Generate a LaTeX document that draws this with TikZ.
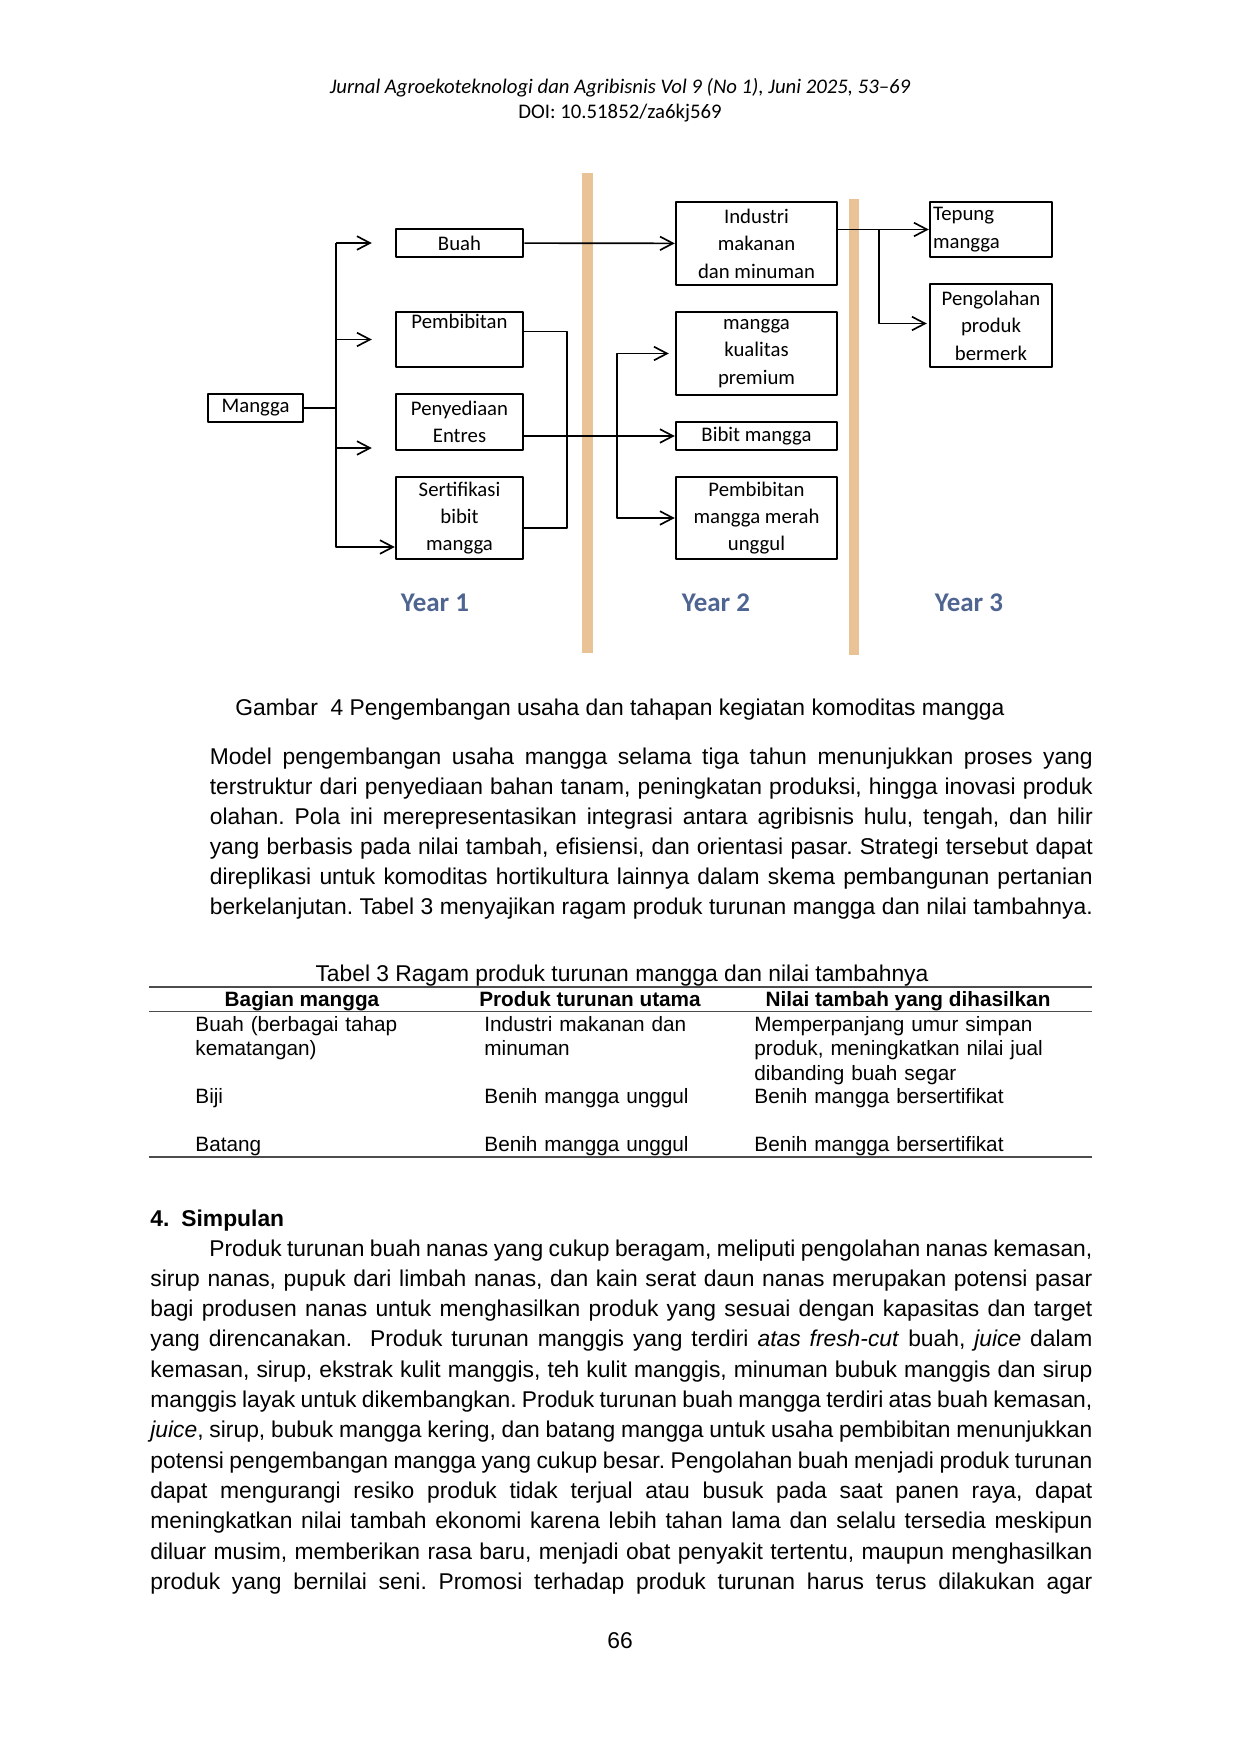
\documentclass[tikz,border=0pt]{standalone}
\usepackage{fontspec}
\setmainfont{Liberation Sans}
\newfontfamily\calibri{Carlito}
\usetikzlibrary{arrows.meta,calc}
\definecolor{barorange}{RGB}{233,194,150}
\definecolor{yearblue}{RGB}{79,101,145}
\def\pu{0.16935mm} % one pixel of the page
\newlength\wA \setlength\wA{149.54mm}
\newlength\wB \setlength\wB{159.53mm}
\newcommand\fl[2][\wA]{\hbox to #1{#2}}
\newcommand\spacing{\frenchspacing\spaceskip=0.278em plus 0.4em minus 0.14em\relax}
\begin{document}
\begin{tikzpicture}[line join=round, x=\pu, y=-\pu, >={Straight Barb[length=2.2mm,width=2.3mm]},
    box/.style={draw, line width=1.2pt, inner sep=0pt, align=center, font={\calibri\fontsize{10pt}{13.2pt}\selectfont}},
    conn/.style={line width=0.8pt},
    year/.style={text=yearblue, font={\calibri\bfseries\fontsize{13pt}{15pt}\selectfont}},
    body/.style={inner sep=0pt, font={\fontsize{11pt}{14.5pt}\selectfont}},
    cell/.style={inner sep=0pt, anchor=base west, text width=260*\pu, font={\fontsize{10pt}{11.9pt}\selectfont}},
    head/.style={inner sep=0pt, anchor=base, font={\bfseries\fontsize{10pt}{11.9pt}\selectfont}},
    rule/.style={black!70, line width=0.8pt}]
    \useasboundingbox (0,0) rectangle (1240,1754);
    \fill[white] (0,0) rectangle (1240,1754);
    % kop
    \node[inner sep=0pt, anchor=base, font={\calibri\itshape\fontsize{10pt}{12pt}\selectfont}] (jurnal) at (620,93) {Jurnal Agroekoteknologi dan Agribisnis Vol 9 (No 1), Juni 2025, 53\textendash 69};
    \node[inner sep=0pt, anchor=base, font={\calibri\fontsize{10pt}{12pt}\selectfont}] (doi) at (620,118) {DOI: 10.51852/za6kj569};
    % batas tahun
    \fill[barorange] (582,173) rectangle (593,653);
    \fill[barorange] (849,199) rectangle (859,655);
    % year 1
    \node[box, minimum width=95*\pu, minimum height=28*\pu] (mangga) at (255.5,408) {Mangga};
    \node[box, minimum width=127*\pu, minimum height=28*\pu] (buah) at (459.5,243) {Buah};
    \node[box, minimum width=127*\pu, minimum height=55*\pu] (pembibitan) at (459.5,339.5) {Pembibitan\\\strut};
    \node[box, minimum width=127*\pu, minimum height=56*\pu] (penyediaan) at (459.5,422) {Penyediaan\\Entres};
    \node[box, minimum width=127*\pu, minimum height=82*\pu] (sertifikasi) at (459.5,518) {Sertifikasi\\bibit\\mangga};
    % year 2
    \node[box, minimum width=161*\pu, minimum height=83*\pu] (industri) at (756.5,243.5) {Industri\\makanan\\dan minuman};
    \node[box, minimum width=161*\pu, minimum height=83*\pu] (kualitas) at (756.5,353.5) {mangga\\kualitas\\premium};
    \node[box, minimum width=161*\pu, minimum height=28*\pu] (bibit) at (756.5,436) {Bibit mangga};
    \node[box, minimum width=161*\pu, minimum height=82*\pu] (merah) at (756.5,518) {Pembibitan\\mangga merah\\unggul};
    % year 3
    \node[box, align=left, text width=116*\pu, inner xsep=3*\pu, minimum height=55*\pu] (tepung) at (991,229.5) {Tepung\\mangga};
    \node[box, minimum width=122*\pu, minimum height=83*\pu] (pengolahan) at (991,325.5) {Pengolahan\\produk\\bermerk};
    \node[year] (year1) at (435,603) {Year 1};
    \node[year] (year2) at (716,603) {Year 2};
    \node[year] (year3) at (969,603) {Year 3};
    % panah
    \coordinate (fork1) at (336,408);
    \coordinate (low) at (336,547);
    \draw[conn] (mangga) -- (fork1);
    \draw[conn,->] (fork1 |- buah) -- (low) -- (low -| sertifikasi.west);
    \draw[conn,->] (fork1 |- buah) -- ($(buah.west)+(-23,0)$);
    \draw[conn,->] (fork1 |- pembibitan) -- ($(pembibitan.west)+(-23,0)$);
    \draw[conn,->] (336,448) -- ($(penyediaan.west)+(-23,26)$);
    \draw[conn] ($(pembibitan.east)+(0,-8)$) -- ++(43,0) |- ($(sertifikasi.east)+(0,10)$);
    \draw[conn,->] (buah) -- (industri);
    \draw[conn,->] (bibit.west -| penyediaan.east) -- (bibit.west);
    \coordinate (fork2) at (617,437);
    \draw[conn,->] (fork2) |- ($(kualitas.west)+(-6,0)$);
    \draw[conn,->] (fork2) |- (merah.west);
    \coordinate (fork3) at (879,229.5);
    \draw[conn,->] (tepung.west -| industri.east) -- (tepung.west);
    \draw[conn,->] (fork3) |- ($(pengolahan.west)+(-2,-2)$);
    % teks halaman
    \node[body, anchor=base west] (gambar) at (235,715) {Gambar\ \ 4 Pengembangan usaha dan tahapan kegiatan komoditas mangga};
    \node[body, anchor=base west, text width=\wA] (model) at (209.4,764) {\spacing
        \fl{Model pengembangan usaha mangga selama tiga tahun menunjukkan proses yang}
        \fl{terstruktur dari penyediaan bahan tanam, peningkatan produksi, hingga inovasi produk}
        \fl{olahan. Pola ini merepresentasikan integrasi antara agribisnis hulu, tengah, dan hilir}
        \fl{yang berbasis pada nilai tambah, efisiensi, dan orientasi pasar. Strategi tersebut dapat}
        \fl{direplikasi untuk komoditas hortikultura lainnya dalam skema pembangunan pertanian}
        \fl{berkelanjutan. Tabel 3 menyajikan ragam produk turunan mangga dan nilai tambahnya.}};
    % tabel 3
    \node[body, anchor=base] (tabel) at (622,981) {Tabel 3 Ragam produk turunan mangga dan nilai tambahnya};
    \draw[rule] (149,987) -- (1092,987);
    \draw[rule, line width=0.6pt] (149,1011.5) -- (1092,1011.5);
    \draw[rule] (149,1157) -- (1092,1157);
    \node[head] (hbagian) at (302,1006) {Bagian mangga};
    \node[head] (hproduk) at (590,1006) {Produk turunan utama};
    \node[head] (hnilai) at (908,1006) {Nilai tambah yang dihasilkan};
    \node[cell] (buahb) at (195,1031) {Buah (berbagai tahap\\kematangan)};
    \node[cell] (buahp) at (484,1031) {Industri makanan dan\\minuman};
    \node[cell, text width=330*\pu] (buahn) at (754,1031) {Memperpanjang umur simpan\\produk, meningkatkan nilai jual\\dibanding buah segar};
    \node[cell] (bijib) at (195,1103) {Biji};
    \node[cell] (bijip) at (484,1103) {Benih mangga unggul};
    \node[cell] (bijin) at (754,1103) {Benih mangga bersertifikat};
    \node[cell] (batangb) at (195,1151) {Batang};
    \node[cell] (batangp) at (484,1151) {Benih mangga unggul};
    \node[cell] (batangn) at (754,1151) {Benih mangga bersertifikat};
    % simpulan
    \node[body, anchor=base west, font={\bfseries\fontsize{11pt}{14.5pt}\selectfont}] (simpulan) at (150,1226) {\makebox[5.25mm][l]{4.}Simpulan};
    \node[body, anchor=base west, text width=\wB, font={\fontsize{11pt}{14.6pt}\selectfont}] (isi) at (150,1256) {\spacing
        \fl[\wB]{\kern9.99mm Produk turunan buah nanas yang cukup beragam, meliputi pengolahan nanas kemasan,}
        \fl[\wB]{sirup nanas, pupuk dari limbah nanas, dan kain serat daun nanas merupakan potensi pasar}
        \fl[\wB]{bagi produsen nanas untuk menghasilkan produk yang sesuai dengan kapasitas dan target}
        \fl[\wB]{yang direncanakan.\ \ Produk turunan manggis yang terdiri \textit{atas fresh-cut} buah, \textit{juice} dalam}
        \fl[\wB]{kemasan, sirup, ekstrak kulit manggis, teh kulit manggis, minuman bubuk manggis dan sirup}
        \fl[\wB]{manggis layak untuk dikembangkan. Produk turunan buah mangga terdiri atas buah kemasan,}
        \fl[\wB]{\textit{juice}, sirup, bubuk mangga kering, dan batang mangga untuk usaha pembibitan menunjukkan}
        \fl[\wB]{potensi pengembangan mangga yang cukup besar. Pengolahan buah menjadi produk turunan}
        \fl[\wB]{dapat mengurangi resiko produk tidak terjual atau busuk pada saat panen raya, dapat}
        \fl[\wB]{meningkatkan nilai tambah ekonomi karena lebih tahan lama dan selalu tersedia meskipun}
        \fl[\wB]{diluar musim, memberikan rasa baru, menjadi obat penyakit tertentu, maupun menghasilkan}
        \fl[\wB]{produk yang bernilai seni. Promosi terhadap produk turunan harus terus dilakukan agar}};
    \node[body, anchor=base] (halaman) at (620,1648) {66};
\end{tikzpicture}
\end{document}
